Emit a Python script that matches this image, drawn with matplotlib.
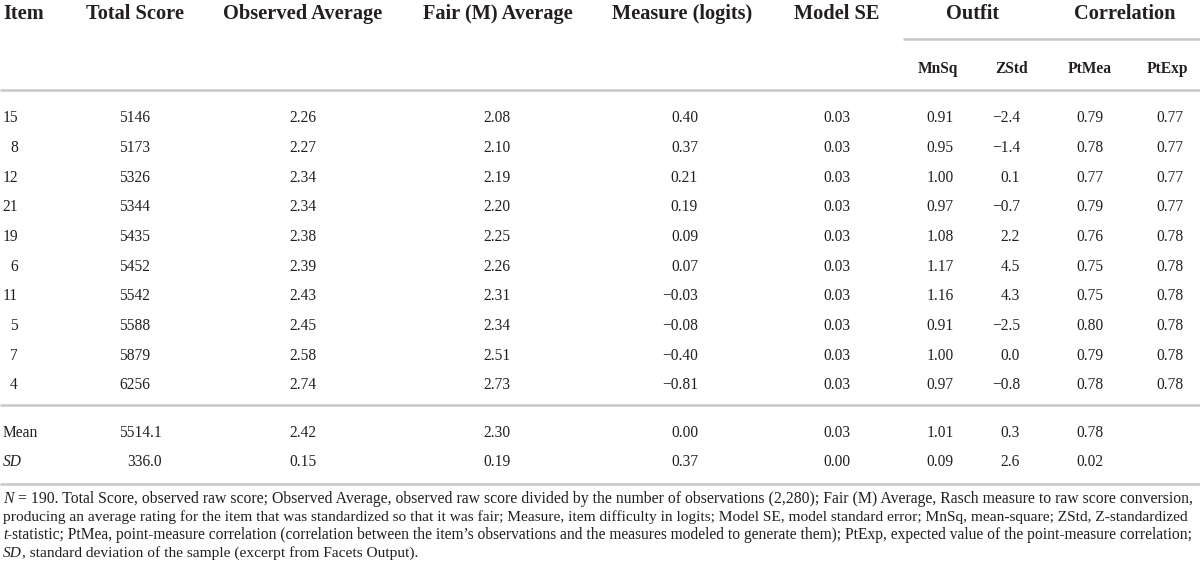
import matplotlib
matplotlib.use("Agg")
import matplotlib.pyplot as plt
from matplotlib.font_manager import FontProperties

# ---------------- data ----------------
headers = ["Item", "Total Score", "Observed Average", "Fair (M) Average",
           "Measure (logits)", "Model SE"]
group_headers = ["Outfit", "Correlation"]
sub_headers = ["MnSq", "ZStd", "PtMea", "PtExp"]

items = ["15", "8", "12", "21", "19", "6", "11", "5", "7", "4"]
total_score = ["5146", "5173", "5326", "5344", "5435", "5452", "5542", "5588", "5879", "6256"]
observed_avg = ["2.26", "2.27", "2.34", "2.34", "2.38", "2.39", "2.43", "2.45", "2.58", "2.74"]
fair_avg = ["2.08", "2.10", "2.19", "2.20", "2.25", "2.26", "2.31", "2.34", "2.51", "2.73"]
measure = ["0.40", "0.37", "0.21", "0.19", "0.09", "0.07", "\u22120.03", "\u22120.08", "\u22120.40", "\u22120.81"]
model_se = ["0.03"] * 10
mnsq = ["0.91", "0.95", "1.00", "0.97", "1.08", "1.17", "1.16", "0.91", "1.00", "0.97"]
zstd = ["\u22122.4", "\u22121.4", "0.1", "\u22120.7", "2.2", "4.5", "4.3", "\u22122.5", "0.0", "\u22120.8"]
ptmea = ["0.79", "0.78", "0.77", "0.79", "0.76", "0.75", "0.75", "0.80", "0.79", "0.78"]
ptexp = ["0.77", "0.77", "0.77", "0.77", "0.78", "0.78", "0.78", "0.78", "0.78", "0.78"]

summary_labels = ["Mean", "SD"]
summary_total = ["5514.1", "336.0"]
summary_obs = ["2.42", "0.15"]
summary_fair = ["2.30", "0.19"]
summary_measure = ["0.00", "0.37"]
summary_se = ["0.03", "0.00"]
summary_mnsq = ["1.01", "0.09"]
summary_zstd = ["0.3", "2.6"]
summary_ptmea = ["0.78", "0.02"]
summary_ptexp = ["", ""]

# footnote lines: (italic lead, regular rest)
footnote_lines = [
    ("N", " = 190. Total Score, observed raw score; Observed Average, observed raw score divided by the number of observations (2,280); Fair (M) Average, Rasch measure to raw score conversion,"),
    ("", "producing an average rating for the item that was standardized so that it was fair; Measure, item difficulty in logits; Model SE, model standard error; MnSq, mean-square; ZStd, Z-standardized"),
    ("t", "-statistic; PtMea, point-measure correlation (correlation between the item\u2019s observations and the measures modeled to generate them); PtExp, expected value of the point-measure correlation;"),
    ("SD", ", standard deviation of the sample (excerpt from Facets Output)."),
]
justify = [True, True, True, False]

# ---------------- layout ----------------
W, H = 1200, 578
fig = plt.figure(figsize=(W / 100, H / 100), dpi=100)
ax = fig.add_axes([0, 0, 1, 1])
ax.set_xlim(0, W)
ax.set_ylim(H, 0)
ax.axis("off")
fig.canvas.draw()
renderer = fig.canvas.get_renderer()

FONT = "Liberation Serif"
TXT = "#231f20"
RULE = "#c8c8c8"

def prop(fs, bold=False, italic=False):
    return FontProperties(family=FONT, size=fs,
                          weight="bold" if bold else "normal",
                          style="italic" if italic else "normal")

def width_of(s, fs, bold=False, italic=False):
    if not s:
        return 0.0
    tt = ax.text(0, 0, s, fontproperties=prop(fs, bold, italic))
    w = tt.get_window_extent(renderer).width
    tt.remove()
    return w

def fit(s, target, bold=False):
    return 10 * target / width_of(s, 10, bold)

HFS = fit("Observed Average", 160, bold=True)
SFS = fit("PtMea", 44, bold=True)
BFS = fit("5146", 31)

def t(x, y, s, ha="left", fs=None, bold=False, italic=False):
    # y is the visual centre of capitals; text sits on its baseline
    fs = fs or BFS
    cap = 0.66 * fs * 100 / 72
    ax.text(x, y + cap / 2, s, ha=ha, va="baseline",
            fontproperties=prop(fs, bold, italic), color=TXT)

# headers
header_x = [3, 86, 223, 423, 612, 794]
for x, h in zip(header_x, headers):
    t(x, 12, h, fs=HFS, bold=True)
t(973, 12, group_headers[0], ha="center", fs=HFS, bold=True)
t(1125, 12, group_headers[1], ha="center", fs=HFS, bold=True)
sub_x = [938, 1012, 1090, 1167]
for x, h in zip(sub_x, sub_headers):
    t(x, 68, h, ha="center", fs=SFS, bold=True)

# rules
ax.plot([903, W], [39, 39], color=RULE, lw=1.8, solid_capstyle="butt")
for yy in (90, 405, 484):
    ax.plot([0, W], [yy, yy], color=RULE, lw=1.8, solid_capstyle="butt")

# body rows
row_y0, row_dy = 117, 29.7
for i in range(len(items)):
    y = row_y0 + i * row_dy
    t(18, y, items[i], ha="right")
    t(150, y, total_score[i], ha="right")
    t(303, y, observed_avg[i], ha="center")
    t(497, y, fair_avg[i], ha="center")
    t(698, y, measure[i], ha="right")
    t(837, y, model_se[i], ha="center")
    t(940, y, mnsq[i], ha="center")
    t(1020, y, zstd[i], ha="right")
    t(1090, y, ptmea[i], ha="center")
    t(1170, y, ptexp[i], ha="center")

sum_y = [432, 461]
for i in range(2):
    y = sum_y[i]
    t(3, y, summary_labels[i], italic=(summary_labels[i] == "SD"))
    ip, dp = summary_total[i].split(".")
    t(150, y, ip, ha="right")
    t(150, y, "." + dp, ha="left")
    t(303, y, summary_obs[i], ha="center")
    t(497, y, summary_fair[i], ha="center")
    t(698, y, summary_measure[i], ha="right")
    t(837, y, summary_se[i], ha="center")
    t(940, y, summary_mnsq[i], ha="center")
    t(1020, y, summary_zstd[i], ha="right")
    t(1090, y, summary_ptmea[i], ha="center")
    if summary_ptexp[i]:
        t(1170, y, summary_ptexp[i], ha="center")

# footnote: each full line fitted to the text width (mimics justification)
x_left, x_right = 3, 1195
target = x_right - x_left

def line_width(lead, rest, fs):
    return width_of(lead, fs, italic=True) + width_of(rest, fs)

sizes = []
for (lead, rest), just in zip(footnote_lines, justify):
    if not just:
        sizes.append(None)
        continue
    fs = 10.0
    for _ in range(4):
        fs = fs * target / line_width(lead, rest, fs)
    while line_width(lead, rest, fs) > target:
        fs -= 0.02
    sizes.append(fs)
mean_fs = min(s for s in sizes if s)
sizes = [s if s else mean_fs for s in sizes]

foot_y = [498, 516, 534, 552]
for (lead, rest), yy, fs in zip(footnote_lines, foot_y, sizes):
    cap = 0.66 * fs * 100 / 72
    x = x_left
    if lead:
        ax.text(x, yy + cap / 2, lead, ha="left", va="baseline",
                fontproperties=prop(fs, italic=True), color=TXT)
        x += width_of(lead, fs, italic=True)
    ax.text(x, yy + cap / 2, rest, ha="left", va="baseline",
            fontproperties=prop(fs), color=TXT)

fig.savefig("out.png", dpi=100)
